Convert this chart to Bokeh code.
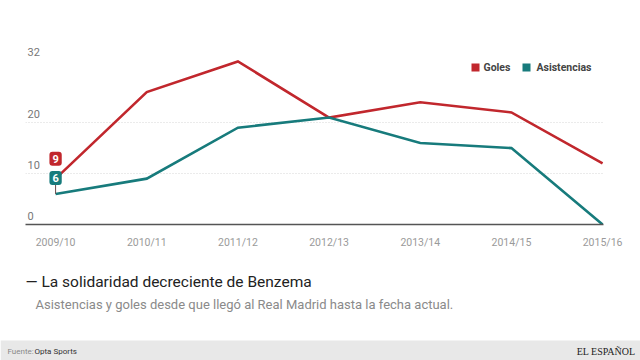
from bokeh.plotting import figure
from bokeh.layouts import column
from bokeh.models import Range1d, Label, BoxAnnotation, FixedTicker
from bokeh.embed import file_html
from bokeh.resources import INLINE

seasons = ["2009/10", "2010/11", "2011/12", "2012/13", "2013/14", "2014/15", "2015/16"]
goles = [9, 26, 32, 21, 24, 22, 12]
asistencias = [6, 9, 19, 21, 16, 15, 0]
y_ticks = [0, 10, 20, 32]
grid_ticks = [10, 20]
series_names = ["Goles", "Asistencias"]
title_text = "\u2014 La solidaridad decreciente de Benzema"
subtitle_text = "Asistencias y goles desde que lleg\u00f3 al Real Madrid hasta la fecha actual."
source_label = "Fuente:"
source_value = "Opta Sports"
brand = "EL ESPA\u00d1OL"

RED = "#c1272d"
TEAL = "#177b7c"
FONT = "Roboto"

W = 640
xs = list(range(len(seasons)))

p = figure(width=W, height=258, output_backend="svg", toolbar_location=None,
           x_range=Range1d(-0.33, 6.01), y_range=Range1d(0, 43.97),
           min_border_left=25, min_border_right=37, min_border_top=0, min_border_bottom=34)
p.outline_line_color = None
p.frame_align = False

p.yaxis.visible = False
xa = p.xaxis[0]
xa.ticker = FixedTicker(ticks=xs)
xa.major_label_overrides = {i: s for i, s in enumerate(seasons)}
xa.axis_line_color = "#555555"
xa.axis_line_width = 1.5
xa.major_tick_line_color = None
xa.minor_tick_line_color = None
xa.major_label_standoff = 5
xa.major_label_text_font = FONT
xa.major_label_text_font_size = "10.5px"
xa.major_label_text_color = "#9a9a9a"

p.xgrid.visible = False
p.ygrid.ticker = FixedTicker(ticks=grid_ticks)
p.ygrid.grid_line_color = "#d6d6d6"
p.ygrid.grid_line_dash = "1 2"
p.ygrid.grid_line_width = 1

for t in y_ticks:
    p.add_layout(Label(x=2, x_units="screen", y=t, y_offset=9, text=str(t),
                       text_font=FONT, text_font_size="11px", text_color="#777777",
                       text_baseline="middle", text_align="left"))

p.line(xs, goles, line_color=RED, line_width=2.6, line_join="miter")
p.line(xs, asistencias, line_color=TEAL, line_width=2.6, line_join="miter")

p.segment(x0=[xs[0]], y0=[asistencias[0]], x1=[xs[0]], y1=[asistencias[0] + 2.0],
          line_color="#6a4a4a", line_width=1)
for val, col, off in [(goles[0], RED, 20), (asistencias[0], TEAL, 16)]:
    p.add_layout(Label(x=xs[0], y=val, y_offset=off, text=str(val), text_align="center",
                       text_baseline="middle", text_font=FONT, text_font_style="bold",
                       text_font_size="11px", text_color="white",
                       background_fill_color=col, border_radius=3, padding=3))

leg_y = 224 - 67
for (name, col, sq_left, tx) in [(series_names[0], RED, 446, 458), (series_names[1], TEAL, 497, 511)]:
    p.add_layout(BoxAnnotation(left=sq_left, right=sq_left + 8, bottom=leg_y - 4, top=leg_y + 4,
                               left_units="screen", right_units="screen",
                               bottom_units="screen", top_units="screen",
                               fill_color=col, fill_alpha=1, line_color=None, level="overlay"))
    p.add_layout(Label(x=tx, y=leg_y, x_units="screen", y_units="screen", text=name,
                       text_font=FONT, text_font_size="10.5px", text_font_style="bold",
                       text_color="#444444", text_baseline="middle"))

q = figure(width=W, height=102, output_backend="svg", toolbar_location=None,
           x_range=Range1d(0, 1), y_range=Range1d(0, 1),
           x_axis_location=None, y_axis_location=None,
           min_border_left=0, min_border_right=0, min_border_top=0, min_border_bottom=0)
q.outline_line_color = None
q.frame_align = False
q.xgrid.visible = False
q.ygrid.visible = False

q.add_layout(Label(x=25, y=79, x_units="screen", y_units="screen", text=title_text,
                   text_font=FONT, text_font_size="15.5px", text_color="#222222",
                   text_baseline="middle"))
q.add_layout(Label(x=35, y=56, x_units="screen", y_units="screen", text=subtitle_text,
                   text_font=FONT, text_font_size="13px", text_color="#8a8a8a",
                   text_baseline="middle"))
q.add_layout(BoxAnnotation(left=0, right=W, bottom=0, top=20,
                           left_units="screen", right_units="screen",
                           bottom_units="screen", top_units="screen",
                           fill_color="#e8e8e8", fill_alpha=1, line_color=None, level="underlay"))
q.add_layout(Label(x=7, y=9, x_units="screen", y_units="screen", text=source_label,
                   text_font=FONT, text_font_size="8px", text_color="#888888",
                   text_baseline="middle"))
q.add_layout(Label(x=34, y=9, x_units="screen", y_units="screen", text=source_value,
                   text_font=FONT, text_font_size="8px", text_color="#333333",
                   text_baseline="middle"))
q.add_layout(Label(x=635, y=9, x_units="screen", y_units="screen", text=brand,
                   text_font="Liberation Serif", text_font_size="10px", text_color="#222222",
                   text_baseline="middle", text_align="right"))

layout = column(p, q, spacing=0)
open("out.html", "w").write(file_html(layout, INLINE))
